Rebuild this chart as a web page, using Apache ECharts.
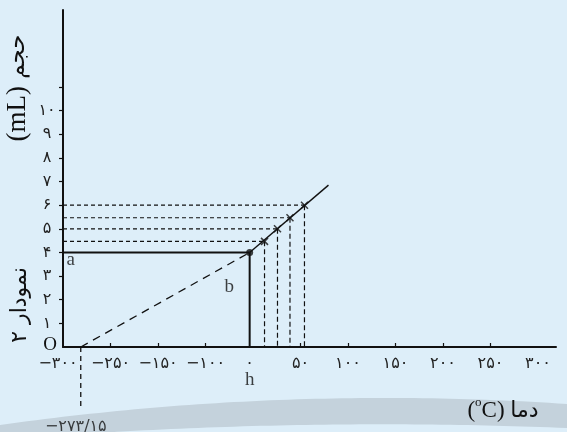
<!DOCTYPE html>
<html>
<head>
<meta charset="utf-8">
<script src="https://cdn.jsdelivr.net/npm/echarts@6/dist/echarts.min.js"></script>
<style>html,body{margin:0;padding:0;background:#ddeef9;}#c{width:567px;height:432px;}</style>
</head>
<body>
<div id="c"></div>
<script>
// ---- data (axis units: x in schematic tick steps, y in mL) ----
const xTickLabels = ['−۳۰۰','−۲۵۰','−۱۵۰','−۱۰۰','۰','۵۰','۱۰۰','۱۵۰','۲۰۰','۲۵۰','۳۰۰'];
const xTickValues = [0, 1, 2, 3, 3.93, 5, 6, 7, 8, 9, 10];
const xTickMarks = [1, 2, 3, 5, 6, 7, 8, 9];
const yTickLabels = ['O','۱','۲','۳','۴','۵','۶','۷','۸','۹','۱۰'];
const yTickValues = [0,1,2,3,4,5,6,7,8,9,10];
const yTickMarks = [1,2,3,4,5,6,7,8,9,10,11];

const zeroC = [3.93, 4];            // point at 0 °C, 4 mL
const absZeroX = 0.374;             // −273.15 °C on the axis
const measuredX = [4.243, 4.516, 4.779, 5.084];
const measuredY = [4.47, 5.0, 5.47, 6.0];
const lineEnd = [5.59, 6.85];
const absZeroLabel = '−۲۷۳/۱۵';
const annotations = [
  {name:'a', value:[0.16, 3.68]},
  {name:'b', value:[3.5, 2.54]},
  {name:'h', value:[3.93, -1.4]},
  {name: absZeroLabel, value:[0.27, -3.38]}
];

const BLACK = '#111';
const serif = '"Liberation Serif","DejaVu Serif",serif';
const arab = '"DejaVu Sans",sans-serif';

function lab(arr, vals, v){
  for (let i=0;i<vals.length;i++) if (Math.abs(vals[i]-v)<1e-6) return arr[i];
  return '';
}

const series = [];
function line(data, width, dash, extra){
  series.push(Object.assign({
    type:'line', data:data, showSymbol:false, silent:true, animation:false,
    lineStyle:{color:BLACK, width:width, type: dash || 'solid'}, z:3
  }, extra||{}));
}
// horizontal solid (a) and vertical solid (b)
line([[0, zeroC[1]], zeroC], 2);
line([zeroC, [zeroC[0], 0]], 2);
// extrapolated dashed line to absolute zero
line([[absZeroX, 0], zeroC], 1.3, [8,6]);
// measured line
line([zeroC, lineEnd], 1.4);
// dashed guides for measured points
measuredX.forEach((x,i)=>{
  line([[0, measuredY[i]], [x, measuredY[i]]], 1.2, [4,3]);
  line([[x, measuredY[i]], [x, 0]], 1.2, [5,3]);
});
// absolute zero drop line
line([[absZeroX, 0], [absZeroX, -2.55]], 1.3, [5,4], {clip:false});

series.push({
  type:'scatter', silent:true, animation:false, z:5,
  data: measuredX.map((x,i)=>[x, measuredY[i]]),
  symbol:'path://M0,0L10,10M10,0L0,10', symbolSize:7,
  itemStyle:{color:'rgba(0,0,0,0)', borderColor:BLACK, borderWidth:1.5}
});
series.push({
  type:'scatter', silent:true, animation:false, z:6,
  data:[zeroC], symbol:'circle', symbolSize:7, itemStyle:{color:BLACK}
});
series.push({
  type:'scatter', silent:true, animation:false, z:6, clip:false,
  data: annotations.map(a => a.name === absZeroLabel
    ? {name:a.name, value:a.value, label:{fontFamily:arab, fontSize:16}}
    : a),
  symbolSize:0,
  label:{show:true, position:'inside', formatter:p=>p.name,
    color:BLACK, fontFamily:serif, fontSize:19}
});

// decorative band
function band(){
  const pts = [];
  for (let x=0; x<=567; x+=9) pts.push([x, 425 - 0.1405*x + 1.824e-4*x*x]);
  pts.push([567, 425 - 0.1405*567 + 1.824e-4*567*567]);
  for (let x=567; x>=0; x-=9) pts.push([x, 440 - 0.0824*x + 1.08e-4*x*x]);
  return pts;
}

const option = {
  backgroundColor:'#ddeef9',
  animation:false,
  grid:{left:63, right:11, top:10, bottom:85, containLabel:false},
  xAxis:{
    type:'value', min:0, max:10.38,
    axisLine:{lineStyle:{color:BLACK, width:2}},
    axisTick:{show:true, inside:true, length:4, customValues:xTickMarks, lineStyle:{color:BLACK, width:1.2}},
    axisLabel:{customValues:xTickValues,
      formatter:v=> v===0 ? '{l|'+xTickLabels[0]+'}' : lab(xTickLabels,xTickValues,v),
      margin:9, fontSize:16, color:'#222', fontFamily:arab,
      rich:{l:{fontSize:16, fontFamily:arab, color:'#222', padding:[0,10,0,0]}}},
    splitLine:{show:false}
  },
  yAxis:{
    type:'value', min:0, max:14.26,
    axisLine:{lineStyle:{color:BLACK, width:2}},
    axisTick:{show:true, length:4, customValues:yTickMarks, lineStyle:{color:BLACK, width:1.2}},
    axisLabel:{customValues:yTickValues,
      formatter:v=> v===0 ? '{o|O}' : lab(yTickLabels,yTickValues,v),
      margin:16, align:'center', fontSize:16, color:'#222', fontFamily:arab,
      rich:{o:{fontFamily:serif, fontSize:19, color:BLACK, padding:[0,0,4,6]}}},
    splitLine:{show:false}
  },
  graphic:[
    {type:'polygon', z:-10, silent:true, shape:{points:band()}, style:{fill:'#c4d2dc'}},
    {type:'text', z:10, x:18, y:88, rotation:Math.PI/2, silent:true,
      style:{text:'{s|(mL)}{a| حجم}', align:'center', verticalAlign:'middle',
        textAlign:'center', textVerticalAlign:'middle',
        rich:{s:{font:'27px '+serif, fill:BLACK}, a:{font:'23px '+arab, fill:BLACK}}}},
    {type:'text', z:10, x:20, y:305, rotation:Math.PI/2, silent:true,
      style:{text:'۲ نمودار', font:'22px '+arab, fill:BLACK, align:'center', verticalAlign:'middle',
        textAlign:'center', textVerticalAlign:'middle'}},
    {type:'text', z:10, x:503, y:409, silent:true,
      style:{text:'{p|(}{sup|o}{p|C) }{a|دما}', align:'center', verticalAlign:'middle',
        textAlign:'center', textVerticalAlign:'middle',
        rich:{p:{font:'23px '+serif, fill:BLACK, lineHeight:26, verticalAlign:'bottom'},
              sup:{font:'13px '+serif, fill:BLACK, lineHeight:26, verticalAlign:'top'},
              a:{font:'22px '+arab, fill:BLACK, lineHeight:26, verticalAlign:'bottom'}}}}
  ],
  series: series
};

const chart = echarts.init(document.getElementById('c'), null, {renderer:'canvas'});
chart.setOption(option);
</script>
</body>
</html>
